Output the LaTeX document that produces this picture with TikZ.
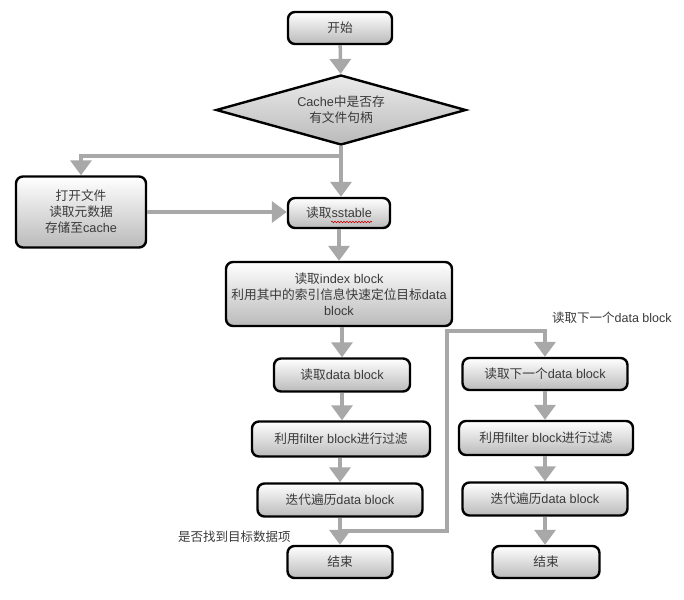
\documentclass[tikz,border=0pt]{standalone}
\usepackage{fontspec}
\setmainfont{Liberation Sans}
\newfontfamily\cjkfont{Noto Sans CJK SC}
\newcommand\zhc[1]{{\cjkfont #1}}
\usetikzlibrary{arrows.meta,shapes.geometric,decorations.pathmorphing}
\definecolor{txt}{HTML}{3A3A3A}
\definecolor{arr}{HTML}{A8A8A8}
\begin{document}
\begin{tikzpicture}[x=1pt,y=-1pt,
  box/.style={draw=black, line width=2.4pt, rounded corners=7pt,
    top color=white, bottom color=black!27, text=txt, align=center,
    font=\fontsize{12.7}{16}\selectfont, inner sep=0pt},
  dia/.style={draw=black, line width=2.4pt, diamond, aspect=3.57,
    top color=white!92!black, bottom color=black!27, text=txt, align=center,
    font=\fontsize{12.7}{16}\selectfont, inner sep=0pt,
    minimum width=250pt, minimum height=70pt},
  flow/.style={draw=arr, line width=3.5pt, -{Triangle[width=21pt,length=15pt]}},
  lbl/.style={text=txt, font=\fontsize{12.5}{15}\selectfont, inner sep=0pt}]
\useasboundingbox (0,0) rectangle (684,599);

\node[box, minimum width=104pt, minimum height=32pt] (start) at (340,28) {\zhc{开始}};
\node[dia] (dec) at (341,110) {Cache\zhc{中是否存}\\\zhc{有文件句柄}};
\node[box, minimum width=130pt, minimum height=71pt] (open) at (81,212) {\zhc{打开文件}\\\zhc{读取元数据}\\\zhc{存储至}cache};
\node[box, minimum width=102pt, minimum height=30pt] (sst) at (339,213) {\zhc{读取}sstable};
\node[box, minimum width=226pt, minimum height=64pt] (idx) at (339,294) {\zhc{读取}index block\\\zhc{利用其中的索引信息快速定位目标}data\\block};
\node[box, minimum width=136pt, minimum height=33pt] (rd1) at (342,375) {\zhc{读取}data block};
\node[box, minimum width=178pt, minimum height=35pt] (flt1) at (341,439) {\zhc{利用}filter block\zhc{进行过滤}};
\node[box, minimum width=165pt, minimum height=33pt] (it1) at (340,500) {\zhc{迭代遍历}data block};
\node[box, minimum width=105pt, minimum height=32pt] (end1) at (340,562) {\zhc{结束}};
\node[box, minimum width=165pt, minimum height=32pt] (rd2) at (545,374) {\zhc{读取下一个}data block};
\node[box, minimum width=174pt, minimum height=34pt] (flt2) at (546,438) {\zhc{利用}filter block\zhc{进行过滤}};
\node[box, minimum width=165pt, minimum height=33pt] (it2) at (545,499) {\zhc{迭代遍历}data block};
\node[box, minimum width=107pt, minimum height=32pt] (end2) at (546,562) {\zhc{结束}};

\node[lbl, anchor=west] (lb1) at (552,318) {\zhc{读取下一个}data block};
\node[lbl, anchor=west] (lb2) at (178,537) {\zhc{是否找到目标数据项}};

% red spell-check underline under "sstable"
\draw[red!80!black, line width=0.6pt, decorate,
  decoration={snake, amplitude=0.8pt, segment length=3pt}] (331,222) -- (372,222);

\coordinate (j1) at (341,156);
\coordinate (j2) at (340,531);
\coordinate (c1) at (447,331);

\draw[flow] (start) -- (dec);
\draw[flow] (dec.south) -- (dec.south |- sst.north);
\draw[flow] (j1) -| (open.north);
\draw[flow] (open.east) -- (open.east -| sst.west);
\draw[flow] (sst) -- (sst |- idx.north);
\draw[flow] (idx.south -| rd1) -- (rd1);
\draw[flow] (rd1) -- (rd1 |- flt1.north);
\draw[flow] (flt1.south -| it1) -- (it1);
\draw[flow] (it1) -- (end1);
\draw[flow] (j2) -| (c1) -| (rd2.north);
\draw[flow] (rd2) -- (rd2 |- flt2.north);
\draw[flow] (flt2.south -| it2) -- (it2);
\draw[flow] (it2) -- (it2 |- end2.north);
\end{tikzpicture}
\end{document}
